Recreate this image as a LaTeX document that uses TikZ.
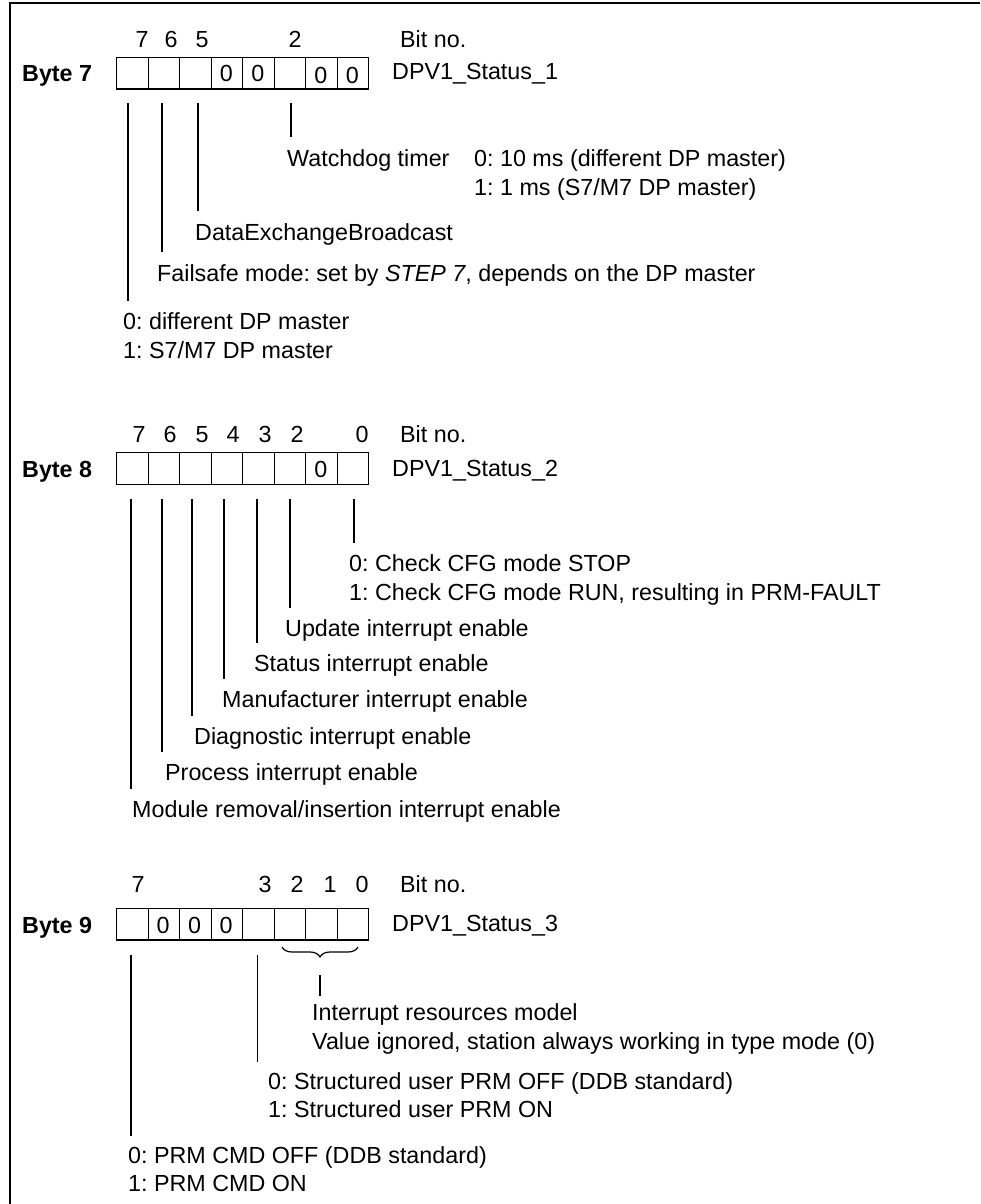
\documentclass[tikz,border=0pt]{standalone}
\usepackage{fontspec}
\setmainfont{Liberation Sans}
\usetikzlibrary{decorations.pathreplacing}
\frenchspacing
\begin{document}
\begin{tikzpicture}[x=1pt,y=-1pt,
  txt/.style={anchor=base west,inner sep=0pt,font=\fontsize{23.3}{28}\selectfont},
  num/.style={anchor=base,inner sep=0pt,font=\fontsize{23.3}{28}\selectfont},
  bytelbl/.style={anchor=base west,inner sep=0pt,font=\fontsize{23.3}{28}\selectfont\bfseries},
  cell/.style={draw,line width=1.4pt,minimum width=31.5pt,minimum height=31.5pt,inner sep=0pt,anchor=north west},
  conn/.style={line width=1.2pt},
  frameline/.style={line width=1.8pt}]
\useasboundingbox (0,0) rectangle (980,1204);
% frame
\coordinate (ftl) at (10,3);
\coordinate (ftr) at (980,3);
\coordinate (fbl) at (10,1204);
\draw[frameline] (fbl) -- (ftl) -- (ftr);

% ===================== Byte 7 =====================
\node[bytelbl] (byte7) at (22,82) {Byte 7};
\foreach \i in {0,...,7} \node[cell] (b7c\i) at ({116+31.5*\i},57) {};
\node[num] (z7a) at (226.25,82) {0};
\node[num] (z7b) at (257.75,82) {0};
\node[num] (z7c) at (320.75,84) {0};
\node[num] (z7d) at (352.25,84) {0};
\node[num] (n7a) at (142,48) {7};
\node[num] (n7b) at (171,48) {6};
\node[num] (n7c) at (202,48) {5};
\node[num] (n7d) at (295,48) {2};
\node[txt] (bitno7) at (400,48) {Bit no.};
\node[txt] (st1) at (392,80) {DPV1\_Status\_1};

\node[txt] (wd) at (287,166) {Watchdog timer};
\node[txt] (wd0) at (474,166) {0: 10 ms (different DP master)};
\node[txt] (wd1) at (474,195) {1: 1 ms (S7/M7 DP master)};
\node[txt] (deb) at (195,240) {DataExchangeBroadcast};
\node[txt] (fs) at (157,281) {Failsafe mode: set by \textit{STEP 7}, depends on the DP master};
\node[txt] (dm0) at (123,329) {0: different DP master};
\node[txt] (dm1) at (123,358) {1: S7/M7 DP master};

\draw[conn] (291,103) -- (291,137);
\draw[conn] (198,103) -- (198,211);
\draw[conn] (162,103) -- (162,252);
\draw[conn] (128,103) -- (128,301);

% ===================== Byte 8 =====================
\node[bytelbl] (byte8) at (22,477) {Byte 8};
\foreach \i in {0,...,7} \node[cell] (b8c\i) at ({116+31.5*\i},452) {};
\node[num] (z8a) at (320.75,477) {0};
\foreach \x/\t in {139/7,170/6,202/5,233/4,265/3,297/2,362/0}
  \node[num] (n8\t) at (\x,442) {\t};
\node[txt] (bitno8) at (400,442) {Bit no.};
\node[txt] (st2) at (392,476) {DPV1\_Status\_2};

\node[txt] (cfg0) at (349,571) {0: Check CFG mode STOP};
\node[txt] (cfg1) at (349,600) {1: Check CFG mode RUN, resulting in PRM-FAULT};
\node[txt] (upd) at (285,636) {Update interrupt enable};
\node[txt] (sta) at (254,671) {Status interrupt enable};
\node[txt] (man) at (222,707) {Manufacturer interrupt enable};
\node[txt] (dia) at (194,744) {Diagnostic interrupt enable};
\node[txt] (pro) at (165,780) {Process interrupt enable};
\node[txt] (mod) at (132,817) {Module removal/insertion interrupt enable};

\draw[conn] (354,499) -- (354,543);
\draw[conn] (290,499) -- (290,608);
\draw[conn] (257,499) -- (257,643);
\draw[conn] (224,499) -- (224,679);
\draw[conn] (192,499) -- (192,716);
\draw[conn] (162,499) -- (162,752);
\draw[conn] (131,499) -- (131,789);

% ===================== Byte 9 =====================
\node[bytelbl] (byte9) at (22,933) {Byte 9};
\foreach \i in {0,...,7} \node[cell] (b9c\i) at ({116+31.5*\i},907.7) {};
\node[num] (z9a) at (163,933) {0};
\node[num] (z9b) at (194.5,933) {0};
\node[num] (z9c) at (226,933) {0};
\foreach \x/\t in {138/7,265/3,297/2,330/1,362/0}
  \node[num] (n9\t) at (\x,892) {\t};
\node[txt] (bitno9) at (400,892) {Bit no.};
\node[txt] (st3) at (392,931) {DPV1\_Status\_3};

\draw[conn,decorate,decoration={brace,mirror,amplitude=10pt}] (282,947) -- (358,947);
\node[txt] (irm) at (312,1020) {Interrupt resources model};
\node[txt] (vig) at (312,1049) {Value ignored, station always working in type mode (0)};
\node[txt] (su0) at (268,1089) {0: Structured user PRM OFF (DDB standard)};
\node[txt] (su1) at (268,1117) {1: Structured user PRM ON};
\node[txt] (pc0) at (128,1163) {0: PRM CMD OFF (DDB standard)};
\node[txt] (pc1) at (128,1191) {1: PRM CMD ON};

\draw[conn] (320,975) -- (320,996);
\draw[conn] (257.5,955) -- (257.5,1062);
\draw[conn] (131,955) -- (131,1136);
\end{tikzpicture}
\end{document}
